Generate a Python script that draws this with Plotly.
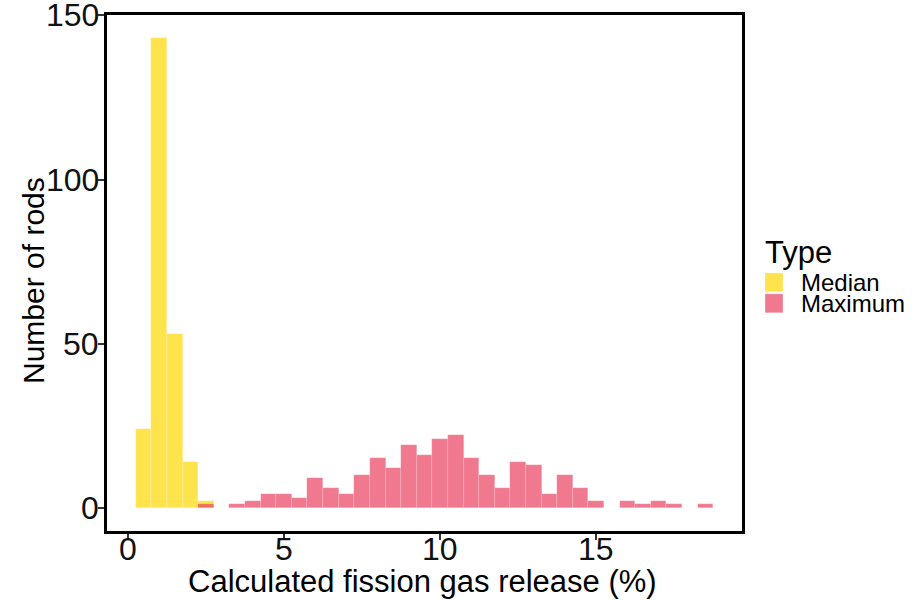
import plotly.graph_objects as go

# Histogram counts of calculated fission gas release (bin width 0.5 %, bins centred on multiples of 0.5)
BIN_WIDTH = 0.5

median_centers = [0.5, 1.0, 1.5, 2.0, 2.5]
median_counts = [24, 143, 53, 14, 2]

maximum_centers = [2.5, 3.0, 3.5, 4.0, 4.5, 5.0, 5.5, 6.0, 6.5, 7.0, 7.5, 8.0,
                   8.5, 9.0, 9.5, 10.0, 10.5, 11.0, 11.5, 12.0, 12.5, 13.0,
                   13.5, 14.0, 14.5, 15.0, 15.5, 16.0, 16.5, 17.0, 17.5, 18.0, 18.5]
maximum_counts = [1, 0, 1, 2, 4, 4, 3, 9, 6, 4, 10, 15,
                  12, 19, 16, 21, 22, 15, 10, 6, 14, 13,
                  4, 10, 6, 2, 0, 2, 1, 2, 1, 0, 1]

series_names = ["Median", "Maximum"]
x_ticks = [0, 5, 10, 15]
y_ticks = [0, 50, 100, 150]

FONT = "Liberation Sans, Arial, sans-serif"
TICK_FONT = dict(family=FONT, size=32, color="#111111")
COLORS = {"Median": "rgba(255,215,0,0.7)", "Maximum": "rgba(234,62,95,0.7)"}
EDGE = "rgba(255,255,255,0.35)"

fig = go.Figure()
for name, xs, ys in [("Median", median_centers, median_counts),
                     ("Maximum", maximum_centers, maximum_counts)]:
    fig.add_trace(go.Bar(
        x=xs, y=ys, width=BIN_WIDTH, name=name,
        marker=dict(color=COLORS[name], line=dict(color=EDGE, width=0.5)),
        showlegend=False,
    ))

# x/y limits with 5 % padding around the data extent
x_lo = median_centers[0] - BIN_WIDTH / 2
x_hi = maximum_centers[-1] + BIN_WIDTH / 2
y_hi = max(max(median_counts), max(maximum_counts))
x_pad = 0.05 * (x_hi - x_lo)
y_pad = 0.05 * y_hi

axis_common = dict(
    showline=True, linecolor="black", linewidth=2.5, mirror=True,
    showgrid=False, zeroline=False, automargin=False,
    ticks="outside", ticklen=6, tickwidth=1.5, tickcolor="#333333",
    showticklabels=False,
)

fig.update_layout(
    width=916, height=600,
    margin=dict(l=107, r=174, t=15, b=69),
    paper_bgcolor="white", plot_bgcolor="white",
    barmode="overlay", bargap=0,
    font=dict(family=FONT, color="black"),
    xaxis=dict(range=[x_lo - x_pad, x_hi + x_pad], tickvals=x_ticks, **axis_common),
    yaxis=dict(range=[-y_pad, y_hi + y_pad], tickvals=y_ticks, **axis_common),
)

# tick labels set close to the ticks
for v in x_ticks:
    fig.add_annotation(text=str(v), xref="x", yref="paper", x=v, y=0,
                       xanchor="center", yanchor="middle", yshift=-18,
                       showarrow=False, font=TICK_FONT)
for v in y_ticks:
    fig.add_annotation(text=str(v), xref="paper", yref="y", x=0, y=v,
                       xanchor="right", yanchor="middle", xshift=-6,
                       showarrow=False, font=TICK_FONT)

# axis titles
fig.add_annotation(text="Calculated fission gas release (%)", xref="paper", yref="paper",
                   x=0.5, y=0, yanchor="middle", xanchor="center", yshift=-50, xshift=-2,
                   showarrow=False, font=dict(family=FONT, size=31, color="black"))
fig.add_annotation(text="Number of rods", xref="paper", yref="paper",
                   x=0, y=0.5, xanchor="center", yanchor="middle", xshift=-74, yshift=-8,
                   textangle=-90,
                   showarrow=False, font=dict(family=FONT, size=30, color="black"))

# legend drawn to the right of the panel
fig.add_annotation(text="Type", xref="paper", yref="paper", x=1, y=0.54,
                   xanchor="left", yanchor="middle", xshift=21,
                   showarrow=False, font=dict(family=FONT, size=31, color="black"))
key_x0, key_x1 = 1 + 23 / 635, 1 + 41 / 635
key_rows = [(0.5003, 0.4635), (0.4597, 0.4229)]
for name, (top, bot) in zip(series_names, key_rows):
    fig.add_shape(type="rect", xref="paper", yref="paper",
                  x0=key_x0, x1=key_x1, y0=bot, y1=top,
                  fillcolor=COLORS[name], line=dict(color=EDGE, width=1))
    fig.add_annotation(text=name, xref="paper", yref="paper", x=1, y=(top + bot) / 2,
                       xanchor="left", yanchor="middle", xshift=57,
                       showarrow=False, font=dict(family=FONT, size=24, color="black"))

fig.write_html("out.html")
